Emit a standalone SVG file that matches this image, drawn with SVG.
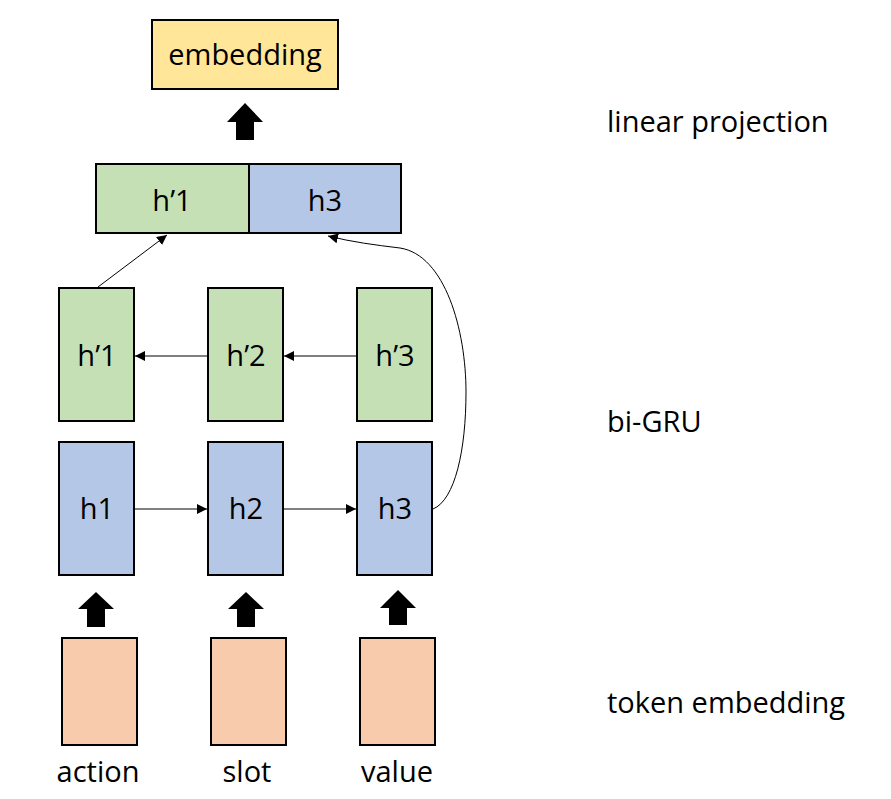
<svg xmlns="http://www.w3.org/2000/svg" width="891" height="799" viewBox="0 0 891 799">
<style>
.box{stroke:#000;stroke-width:2}
.yel{fill:#FFE699}.grn{fill:#C5E0B4}.blu{fill:#B4C7E7}.pch{fill:#F8CBAD}
text{font-family:"Open Sans","Liberation Sans",sans-serif;font-size:29px;fill:#000}
.c{text-anchor:middle}
.ln{fill:none;stroke:#000;stroke-width:1}
.big{fill:#000}
</style>
<defs>
<marker id="ah" markerWidth="10" markerHeight="10" refX="10" refY="5" orient="auto" markerUnits="userSpaceOnUse">
<path d="M0,0 L10,5 L0,10 Z" fill="#000"/>
</marker>
</defs>
<rect width="891" height="799" fill="#fff"/>
<g id="embedding">
<rect class="box yel" x="152" y="20" width="186" height="69"/>
<text class="c" x="245" y="65">embedding</text>
</g>
<g id="concat">
<rect class="box grn" x="96" y="164" width="153" height="69"/>
<rect class="box blu" x="249" y="164" width="152" height="69"/>
<text class="c" x="172" y="211">h’1</text>
<text class="c" x="325" y="211">h3</text>
</g>
<g id="hp1"><rect class="box grn" x="59" y="288" width="75" height="133"/><text class="c" x="97" y="366">h’1</text></g>
<g id="hp2"><rect class="box grn" x="208" y="288" width="75" height="133"/><text class="c" x="246" y="366">h’2</text></g>
<g id="hp3"><rect class="box grn" x="357" y="288" width="75" height="133"/><text class="c" x="395" y="366">h’3</text></g>
<g id="h1"><rect class="box blu" x="59" y="442" width="75" height="133"/><text class="c" x="97" y="519">h1</text></g>
<g id="h2"><rect class="box blu" x="208" y="442" width="75" height="133"/><text class="c" x="246" y="519">h2</text></g>
<g id="h3"><rect class="box blu" x="357" y="442" width="75" height="133"/><text class="c" x="395" y="519">h3</text></g>
<g id="tok_action"><rect class="box pch" x="62" y="638" width="75" height="107"/><text class="c" x="98" y="782">action</text></g>
<g id="tok_slot"><rect class="box pch" x="211" y="638" width="75" height="107"/><text class="c" x="247" y="782">slot</text></g>
<g id="tok_value"><rect class="box pch" x="360" y="638" width="75" height="107"/><text class="c" x="397" y="782">value</text></g>
<g id="labels">
<text x="607" y="132">linear projection</text>
<text x="607" y="432">bi-GRU</text>
<text x="607" y="713">token embedding</text>
</g>
<g id="connectors">
<polygon class="big" points="245,103 263,122 254,122 254,140 236,140 236,122 227,122"/>
<polygon class="big" points="96,592 114,609 105,609 105,627 87,627 87,609 78,609"/>
<polygon class="big" points="246,592 264,609 255,609 255,627 237,627 237,609 228,609"/>
<polygon class="big" points="398,590 416,608 407,608 407,625 389,625 389,608 380,608"/>
<line class="ln" x1="357" y1="356" x2="284" y2="356" marker-end="url(#ah)"/>
<line class="ln" x1="208" y1="356" x2="135" y2="356" marker-end="url(#ah)"/>
<line class="ln" x1="134" y1="509" x2="207" y2="509" marker-end="url(#ah)"/>
<line class="ln" x1="283" y1="509" x2="356" y2="509" marker-end="url(#ah)"/>
<line class="ln" x1="98" y1="287" x2="167" y2="235" marker-end="url(#ah)"/>
<path class="ln" d="M433,509 C455,500 466,450 466,392 C466,330 445,255 400,248 C375,245 352,242 328,236" marker-end="url(#ah)"/>
</g>
</svg>
